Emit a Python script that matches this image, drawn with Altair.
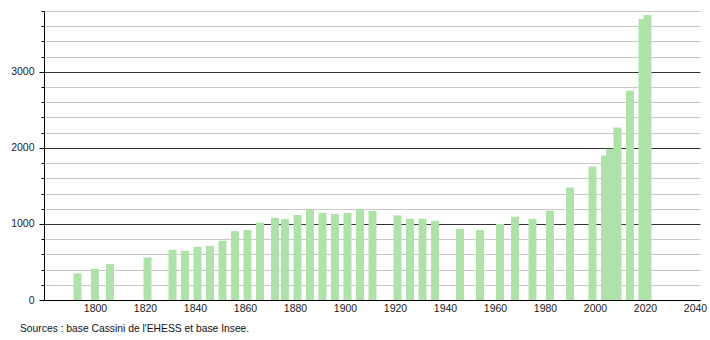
import altair as alt
import pandas as pd

years = [1793, 1800, 1806, 1821, 1831, 1836, 1841, 1846, 1851, 1856, 1861, 1866,
         1872, 1876, 1881, 1886, 1891, 1896, 1901, 1906, 1911, 1921, 1926, 1931,
         1936, 1946, 1954, 1962, 1968, 1975, 1982, 1990, 1999, 2004, 2006, 2009,
         2014, 2019, 2021]
population = [350, 411, 473, 560, 661, 648, 700, 713, 779, 906, 920, 1016,
              1081, 1064, 1117, 1187, 1147, 1134, 1147, 1196, 1169, 1112, 1068, 1068,
              1042, 935, 924, 1000, 1095, 1068, 1173, 1480, 1754, 1900, 1988, 2268,
              2750, 3696, 3749]
x_ticks = [1800, 1820, 1840, 1860, 1880, 1900, 1920, 1940, 1960, 1980, 2000, 2020, 2040]
y_ticks = list(range(0, 3801, 200))
source_text = "Sources : base Cassini de l'EHESS et base Insee."

df = pd.DataFrame({"annee": years, "population": population})

FONT = "Liberation Sans"

chart = alt.Chart(df).mark_bar(size=8, color="#aee2a8").encode(
    x=alt.X(
        "annee:Q",
        scale=alt.Scale(domain=[1779.6, 2042], nice=False, zero=False, padding=0),
        axis=alt.Axis(
            values=x_ticks, format="d", title=None, grid=False, ticks=False,
            domainColor="#000000", domainWidth=1, labelFont=FONT, labelFontSize=10.5,
            labelColor="#222222", labelPadding=3, labelFlush=False,
        ),
    ),
    y=alt.Y(
        "population:Q",
        scale=alt.Scale(domain=[0, 3800], nice=False),
        axis=alt.Axis(
            values=y_ticks, format="d", title=None,
            labelExpr="datum.value % 1000 == 0 ? datum.label : ''",
            grid=True,
            gridColor=alt.condition("datum.value % 1000 == 0", alt.value("#333333"), alt.value("#c8c8c8")),
            gridWidth=1,
            tickColor="#000000",
            tickSize=alt.condition("datum.value % 1000 == 0", alt.value(5), alt.value(3)),
            domainColor="#000000", domainWidth=1,
            labelFont=FONT, labelFontSize=10.5, labelColor="#222222", labelPadding=5,
        ),
    ),
).properties(
    width=656,
    height=289,
    autosize="none",
    padding={"left": 44, "top": 11, "right": 10, "bottom": 40},
    background="white",
    title=alt.TitleParams(
        text=source_text, orient="bottom", anchor="start", frame="group",
        dx=-24, offset=10, font=FONT, fontSize=10.3, fontWeight="normal", color="#111111",
    ),
).configure_view(stroke=None)

chart.save("out.html", embed_options={"renderer": "svg", "actions": False})
